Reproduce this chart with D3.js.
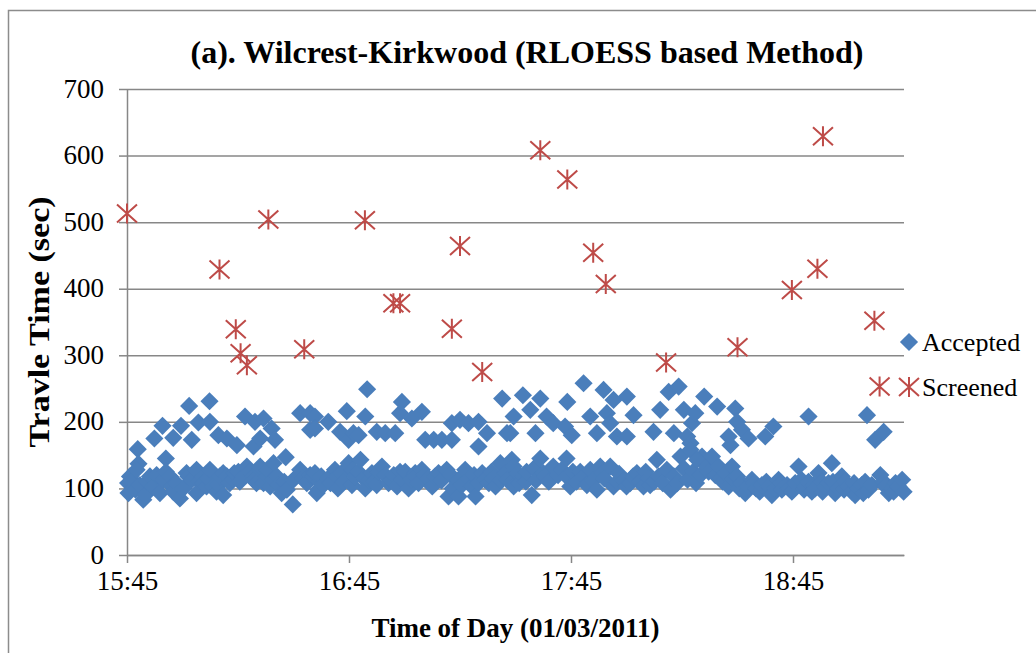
<!DOCTYPE html>
<html lang="en">
<head>
<meta charset="UTF-8">
<title>(a). Wilcrest-Kirkwood (RLOESS based Method)</title>
<style>
  body { margin: 0; background: #fff; }
  svg text { font-family: "Liberation Serif", "Times New Roman", serif; fill: #000; }
</style>
</head>
<body>
<script src="https://d3js.org/d3.v7.min.js"></script>
<script>
  // minutes after 15:45, travel time (sec)
  var acceptedUpper = [
    [2.9,159],[3.1,137],[7.4,175],[9.6,194],[10.5,145],[12.5,176],[14.6,194],[16.8,224],[17.5,173],
    [19.3,199],[22.3,231],[22.4,200],[24.7,180],[27,175],[29.7,165],[31.9,208],[34.2,163],[34.6,200],
    [36,175],[36.9,205],[39.1,190],[40,173],[42.9,147],[46.8,213],[49.5,213],[49.5,188],
    [50.8,208],[50.8,190],[54.4,200],[57.6,185],[59.4,216],[59.9,173],[61.2,183],[62.6,180],[64.4,208],
    [64.9,249],[67.5,185],[69.8,183],[72.5,183],[73.8,213],[74.3,230],[77,205],[79.7,215],[80.6,173],
    [82.9,173],[85.1,173],[87.8,198],[87.8,173],[90,203],[92.3,198],[95,200],[95,163],[97.3,183],
    [101.4,235],[102.7,183],[104.5,208],
    [103.6,183],[107,240],[109,218],[110.4,183],[111.7,235],[113.4,208],[115.2,198],[118.4,193],[119,230],
    [120.2,180],[123.4,258],[125.2,208],[127,183],[128.8,248],[129.7,213],[130.6,198],[131.5,233],
    [132.4,178],[135.1,238],[135.1,178],[136.9,210],[142.3,185],[144.1,218],[146.4,245],[147.8,183],
    [149.1,253],[150.5,218],[151.4,178],[152.3,168],[152.7,198],[153.6,213],[155.4,148],[156,238],
    [159.5,223],[162.6,178],[163.1,165],[164.4,220],[164.9,200],[166.2,188],[168,175],[172.5,178],
    [174.7,193],[184.2,208],[200,210],[202.2,173],[204.5,185]
  ];

  var acceptedLower = [
    [0.3,108],[0.4,93],[0.8,118],[1.5,112],[2.3,98],[2.6,128],[3.5,105],[4.4,83],[4.9,90],[5.5,110],
    [6.2,118],[7.1,103],[8,120],[8.9,93],[9.8,113],[10.5,125],[11.6,118],[12.1,103],[12.5,95],
    [13.3,108],[14.3,85],[15.2,100],[16.1,123],[16.6,118],[17.5,113],[18.8,128],[18.8,93],[19.5,110],
    [20.6,118],[20.6,108],[21.5,103],[22,115],[22.4,128],[23.3,103],[24.2,95],[24.8,105],[25.1,118],
    [26,90],[26,123],[27,118],[27.8,108],[28.7,113],[29,123],[30.1,125],[30.5,110],[31.5,118],
    [32.4,133],[33.2,125],[34.2,118],[34.2,113],[35,108],[36,128],[36,133],[36.9,108],[37.8,118],
    [38,128],[38.7,103],[39.5,113],[39.6,138],[40.5,118],[41,105],[41.8,93],[42.5,110],[43.2,98],
    [44.8,76],[45,113],[46.8,128],[47.5,115],[48.6,108],[49.5,120],[50.4,118],[51.3,93],[52,110],
    [50.8,123],[51.7,98],[52.5,118],[53,105],[54.4,115],[55,108],[56.2,128],[56.8,118],[57,100],
    [58,123],[58.5,110],[59.9,138],[60.8,105],[61,128],[61.7,118],[62.5,125],[63.1,143],[64,115],
    [64.4,100],[65.5,112],[66.2,123],[66.8,110],[67.5,105],[68,125],[68.9,133],[69.8,120],[70.7,108],
    [71.5,113],[72.1,120],[73,103],[73.8,125],[74.3,113],[75.2,125],[76.1,100],[76.8,113],[77.9,123],
    [78,118],[78.8,108],[79.7,128],[80.5,120],[81.5,115],[82.5,103],[83.3,118],[84.2,123],[85,112],
    [86.4,128],[86.9,88],[87.5,120],[88,100],[89.6,113],[89.6,88],[90.5,105],[91.4,128],[92.5,115],
    [93.2,103],[93.8,120],[94.2,88],[95,108],[96,123],[96.8,113],[97.8,108],[98.5,125],[99,115],
    [99.6,103],[100.9,138],[101,112],[102.3,123],[102.8,113],[104,108],[104,143],
    [104.5,133],[104.5,103],[105.5,123],[106,108],[107.2,118],[107.8,110],[108,125],[109.4,90],
    [110,130],[110.5,112],[111.7,145],[112.5,123],[113,118],[114,110],[115.2,133],[116.5,120],
    [117.5,128],[118.8,145],[118.8,118],[119.8,103],[120.5,125],[121.5,110],[122.5,125],[123.4,118],
    [124.3,105],[125.2,128],[126,112],[127,98],[127.9,133],[128.5,123],[129,115],[130.6,133],
    [131.5,103],[132.5,110],[133,122],[134.2,113],[135,103],[136,108],[136.8,118],[137.8,123],
    [138.7,110],[139.6,103],[140.2,125],[141,115],[141.4,105],[142.5,110],[143.2,143],[143.7,118],
    [144.8,108],[145.9,128],[146.9,98],[147.8,118],[148.7,108],[149.6,148],[150.5,130],[151.5,113],
    [152.3,158],[153,125],[153.8,108],[154.1,143],[155,120],[156.8,133],
    [157.2,125],[158.1,148],[159,120],[159.9,133],[160.5,115],[161,110],[161.7,123],[162.6,103],
    [163.5,133],[163.8,113],[164.9,118],[165.5,100],[166,108],[167.1,93],[167.8,103],[168.9,113],
    [169.5,108],[170,100],[171,95],[171.6,105],[172.8,110],[173.5,103],[174.3,90],[175.2,100],
    [176.1,113],[176.8,108],[177,98],[178.4,105],[178.9,100],[179.7,95],[180.6,108],[181.5,133],
    [182.3,113],[183,98],[183.3,103],[184.2,110],[185.1,95],[185.5,105],[186,100],[186.9,123],
    [187.8,110],[188,95],[188.7,103],[189.6,108],[190.5,138],[190.8,110],[191.4,93],[192.3,100],
    [193.2,118],[193.8,98],[194.1,110],[195,103],[195.9,95],[196.5,108],[196.8,90],[197.7,100],
    [198.6,105],[199,93],[199.5,110],[200.4,98],[201.3,105],[203.6,120],[204.5,110],[205,103],
    [205.9,93],[206.8,100],[207.2,95],[207.7,108],[208.5,103],[209.5,113],[209.9,95]
  ];

  var screened = [
    [0,513],[25,429],[29.4,339],[30.7,303],[32.4,285],[38.2,504],[47.9,309],[64.3,503],[72,378],
    [73.8,378],[87.8,340],[90,464],[96,275],[111.7,608],[119,564],[126,454],[129.4,407],[145.7,289],
    [165,312],[179.7,398],[186.6,430],[188.1,629],[202,352],[203.4,253]
  ];

  var yTicks = [0, 100, 200, 300, 400, 500, 600, 700];
  var xTickLabels = ["15:45", "16:45", "17:45", "18:45"];
  var xStart = "15:45", xEnd = "19:15";
  var seriesNames = ["Accepted", "Screened"];

  var blue = "#4a7ebb", red = "#be4b48", gridColor = "#878787";

  var margin = { top: 89, right: 132, bottom: 98, left: 127 };
  var width = 1036 - margin.left - margin.right,
    height = 653 - margin.top - margin.bottom;

  var parseTime = d3.timeParse("%H:%M");
  var t0 = parseTime(xStart);
  function toDate(m) { return new Date(t0.getTime() + m * 60000); }

  var svg = d3.select("body").append("svg")
    .attr("width", 1036)
    .attr("height", 653);

  // outer chart frame
  svg.append("rect")
    .attr("x", 8.5).attr("y", 10.5)
    .attr("width", 1040).attr("height", 660)
    .attr("fill", "none")
    .attr("stroke", "#8c8c8c")
    .attr("stroke-width", 1.5);

  var g = svg.append("g")
    .attr("transform", "translate(" + margin.left + "," + margin.top + ")");

  var x = d3.scaleTime()
    .domain([t0, parseTime(xEnd)])
    .range([0, width]);

  var y = d3.scaleLinear()
    .domain([0, 700])
    .range([height, 0]);

  // gridlines
  g.append("g")
    .attr("class", "grid")
    .call(d3.axisLeft(y).tickValues(yTicks).tickSize(-width).tickFormat(""))
    .call(function(s) {
      s.select(".domain").remove();
      s.selectAll("line").attr("stroke", gridColor).attr("stroke-width", 1.5);
    });

  // y axis
  g.append("g")
    .attr("class", "y axis")
    .call(d3.axisLeft(y).tickValues(yTicks).tickSizeInner(8).tickSizeOuter(0))
    .call(function(s) {
      s.select(".domain").attr("stroke", gridColor).attr("stroke-width", 1.5);
      s.selectAll(".tick line").attr("stroke", gridColor).attr("stroke-width", 1.5);
      s.selectAll(".tick text")
        .attr("x", -23)
        .attr("dy", "0.3em")
        .attr("font-size", "27px")
        .style("font-family", "Liberation Serif");
    });

  // x axis
  g.append("g")
    .attr("class", "x axis")
    .attr("transform", "translate(0," + height + ")")
    .call(d3.axisBottom(x)
      .tickValues(xTickLabels.map(parseTime))
      .tickFormat(d3.timeFormat("%H:%M"))
      .tickSizeInner(8).tickSizeOuter(0))
    .call(function(s) {
      s.select(".domain").attr("stroke", gridColor).attr("stroke-width", 1.5);
      s.selectAll(".tick line").attr("stroke", gridColor).attr("stroke-width", 1.5);
      s.selectAll(".tick text")
        .attr("y", 16)
        .attr("font-size", "27px")
        .style("font-family", "Liberation Serif");
    });

  // Excel style star marker (X with vertical bar)
  var excelStar = {
    draw: function(ctx, size) {
      var r = Math.sqrt(size) / 2;
      ctx.moveTo(-r, -r * 0.9); ctx.lineTo(r, r * 0.9);
      ctx.moveTo(-r, r * 0.9); ctx.lineTo(r, -r * 0.9);
      ctx.moveTo(0, -r); ctx.lineTo(0, r);
    }
  };
  var diamondPath = d3.symbol(d3.symbolSquare, 165)();
  var starPath = d3.symbol(excelStar, 400)();

  var accepted = acceptedUpper.concat(acceptedLower);

  g.append("g").selectAll("path")
    .data(accepted)
    .enter().append("path")
    .attr("d", diamondPath)
    .attr("transform", function(d) {
      return "translate(" + x(toDate(d[0])) + "," + y(d[1]) + ") rotate(45)";
    })
    .attr("fill", blue);

  g.append("g").selectAll("path")
    .data(screened)
    .enter().append("path")
    .attr("d", starPath)
    .attr("transform", function(d) {
      return "translate(" + x(toDate(d[0])) + "," + y(d[1]) + ")";
    })
    .attr("fill", "none")
    .attr("stroke", red)
    .attr("stroke-width", 2);

  // title
  svg.append("text")
    .attr("x", 527).attr("y", 63)
    .attr("text-anchor", "middle")
    .attr("font-size", "32px")
    .attr("font-weight", "bold")
    .text("(a). Wilcrest-Kirkwood (RLOESS based Method)");

  // axis titles
  svg.append("text")
    .attr("x", margin.left + width / 2).attr("y", 637)
    .attr("text-anchor", "middle")
    .attr("font-size", "27px")
    .attr("font-weight", "bold")
    .text("Time of Day (01/03/2011)");

  svg.append("text")
    .attr("transform", "translate(49," + (margin.top + height / 2) + ") scale(0.85,1) rotate(-90)")
    .attr("text-anchor", "middle")
    .attr("font-size", "34px")
    .attr("font-weight", "bold")
    .text("Travle Time (sec)");

  // legend
  var legend = svg.selectAll(".legend")
    .data(seriesNames)
    .enter().append("g")
    .attr("class", "legend")
    .attr("transform", function(d, i) { return "translate(909," + (342 + i * 45) + ")"; });

  legend.append("path")
    .attr("d", function(d, i) { return i === 0 ? diamondPath : starPath; })
    .attr("transform", function(d, i) { return i === 0 ? "rotate(45)" : null; })
    .attr("fill", function(d, i) { return i === 0 ? blue : "none"; })
    .attr("stroke", function(d, i) { return i === 0 ? null : red; })
    .attr("stroke-width", 2);

  legend.append("text")
    .attr("x", 13)
    .attr("y", 9)
    .attr("font-size", "26px")
    .text(function(d) { return d; });
</script>
</body>
</html>
